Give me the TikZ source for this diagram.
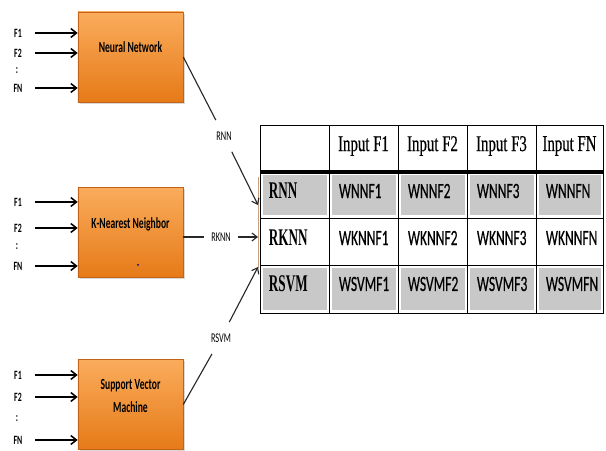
\documentclass[tikz,border=0pt]{standalone}
\usepackage{fontspec}
\setmainfont{Carlito}[FakeStretch=0.62]
\newfontfamily\cellfont{Carlito}[FakeStretch=0.62,FakeBold=0.35]
\newfontfamily\headserif{Liberation Serif}[FakeStretch=0.66,FakeBold=0.4]
\newfontfamily\rowserif{Liberation Serif}[FakeStretch=0.55]
\usepackage{tikz}
\usetikzlibrary{arrows.meta}
\usetikzlibrary{shadows}
\usetikzlibrary{positioning,calc}
\definecolor{boxtop}{RGB}{250,172,92}
\definecolor{boxbot}{RGB}{230,122,24}
\definecolor{boxedge}{RGB}{196,98,22}
\definecolor{cellgray}{RGB}{200,200,200}
\definecolor{linkgray}{RGB}{40,40,40}
\definecolor{braceline}{RGB}{200,160,128}
% F1, F2, :, FN feeding one classifier box
\newcommand{\featin}[4]{%
  \foreach \lab/\yy in {F1/#2,F2/#3,FN/#4}{
    \node[featlabel] at (18,\yy) {\lab};
    \coordinate (#1-\lab) at (35,\yy);
    \draw[featarrow] (#1-\lab) -- (#1-\lab -| #1.west);
  }
  \node[featlabel] at (17,{(#3+#4)/2}) {:};%
}

\begin{document}
\begin{tikzpicture}[x=0.025cm,y=-0.025cm,
    clfbox/.style={draw=boxedge,top color=boxtop,bottom color=boxbot,
      minimum width=2.625cm,minimum height=2.25cm,
      drop shadow={opacity=0.3,shadow xshift=1.2pt,shadow yshift=-1.2pt}},
    clftext/.style={font=\fontsize{11}{17}\selectfont\bfseries,align=center},
    featlabel/.style={font=\fontsize{9}{10}\selectfont\bfseries},
    featarrow/.style={-{Straight Barb[length=1.4mm,width=2.2mm]},line width=1.1pt},
    linklabel/.style={font=\fontsize{9.5}{10}\selectfont,inner xsep=5pt,inner ysep=8pt},
    link/.style={linkgray,line width=0.8pt},
    tabline/.style={line width=0.7pt},
    headtxt/.style={font=\headserif\fontsize{16}{18}\selectfont},
    rowtxt/.style={font=\rowserif\bfseries\fontsize{17}{19}\selectfont,anchor=west},
    celltxt/.style={font=\cellfont\fontsize{15.5}{17}\selectfont,anchor=west}]
  \useasboundingbox (0,0) rectangle (606,451);

  % the three classifiers
  \node[clfbox] (nn) at (130.5,57) {};
  \node[clftext] (nntxt) at (130.5,47) {Neural Network};
  \node[clfbox] (knn) at (130.5,232.5) {};
  \node[clftext] (knntxt) at (130.5,224) {K-Nearest Neighbor};
  \fill[blue!50!black] (138,265) circle (1);
  \node[clfbox] (svm) at (130.5,404.5) {};
  \node[clftext] (svmtxt) at (130.5,396) {Support Vector\\Machine};

  % feature inputs
  \featin{nn}{33}{53}{88}
  \featin{knn}{202}{228}{266}
  \featin{svm}{375}{397}{440}

  % results table
  \foreach \ya/\yb in {172/218,265/313}
    \foreach \xa/\xb in {260/329,329/398,398/467,467/536,536/603}
      \fill[cellgray] (\xa+2.5,\ya+3) rectangle (\xb-2.5,\yb-2.5);
  \draw[tabline] (260,125) rectangle (603,313);
  \foreach \xx in {329,398,467,536}
    \draw[tabline] (\xx,125) -- (\xx,313);
  \foreach \yy in {218,265}
    \draw[tabline] (260,\yy) -- (603,\yy);
  \draw[line width=2.4pt] (260,172) -- (603,172);
  \draw[braceline,line width=0.4pt] (258,177) -- (258,268);

  \foreach \t/\xc in {F1/363.5,F2/432.5,F3/501.5,FN/569.5}
    \node[headtxt] (in\t) at (\xc,146) {Input \t};
  \foreach \r/\w/\yc in {RNN/WNN/191,RKNN/WKNN/238,RSVM/WSVM/284}{
    \node[rowtxt] (row\r) at (264,\yc) {\r};
    \foreach \t/\xa in {F1/334,F2/403,F3/472,FN/541}
      \node[celltxt] (\w\t) at (\xa,\yc) {\w\t};
  }

  % classifier outputs into the table
  \coordinate (rnnin) at (258,205);
  \coordinate (rknnin) at (258,237);
  \coordinate (rsvmin) at (258,267);
  \node[linklabel] (rnnlab) at (224,136) {RNN};
  \node[linklabel] (rknnlab) at (221,237) {RKNN};
  \node[linklabel] (rsvmlab) at (221,338) {RSVM};
  \draw[link] (nn.east) -- (rnnlab);
  \draw[link,-{Straight Barb[length=1.3mm,width=2mm]}] (rnnlab) -- (rnnin);
  \draw[link] (knn.east |- rknnlab) -- (rknnlab);
  \draw[link,-{Straight Barb[length=1.3mm,width=2mm]}] (rknnlab) -- (rknnin);
  \draw[link] (svm.east) -- (rsvmlab);
  \draw[link,-{Straight Barb[length=1.3mm,width=2mm]}] (rsvmlab) -- (rsvmin);
\end{tikzpicture}
\end{document}
